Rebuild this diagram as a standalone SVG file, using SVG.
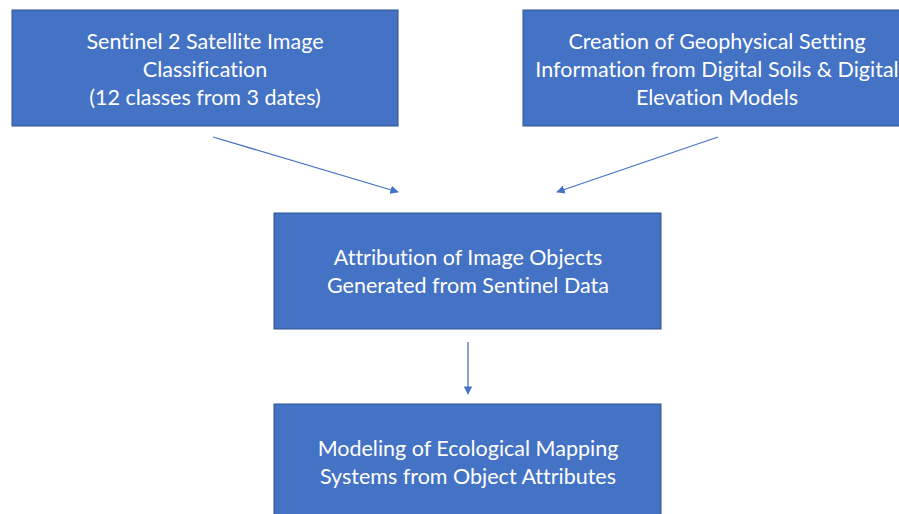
<svg xmlns="http://www.w3.org/2000/svg" width="899" height="514" viewBox="0 0 899 514">
  <style>
    .box { fill: #4472C4; stroke: #2F528F; stroke-width: 1; }
    .label { fill: #FFFFFF; font-family: Lato, "Liberation Sans", sans-serif; font-size: 21.5px; text-anchor: middle; font-variant-ligatures: none; }
    .edge { stroke: #4472C4; stroke-width: 1.3; fill: none; marker-end: url(#arrow); }
  </style>
  <defs>
    <marker id="arrow" viewBox="0 0 10 10" refX="9" refY="5" markerWidth="6.5" markerHeight="6.5" orient="auto" markerUnits="strokeWidth">
      <path d="M0,0 L10,5 L0,10 z" fill="#4472C4"/>
    </marker>
  </defs>

  <rect width="899" height="514" fill="#FFFFFF"/>

  <g id="connectors">
    <line class="edge" x1="213" y1="137" x2="398" y2="192"/>
    <line class="edge" x1="718" y1="137" x2="557" y2="192"/>
    <line class="edge" x1="468" y1="342" x2="468" y2="394"/>
  </g>

  <g id="node-classification">
    <rect class="box" x="12" y="10" width="386" height="116"/>
    <text class="label" x="205" y="49">Sentinel 2 Satellite Image</text>
    <text class="label" x="205" y="77">Classification</text>
    <text class="label" x="205" y="105">(12 classes from 3 dates)</text>
  </g>

  <g id="node-geophysical">
    <rect class="box" x="523" y="10" width="390" height="116"/>
    <text class="label" x="717" y="49">Creation of Geophysical Setting</text>
    <text class="label" x="717" y="77">Information from Digital Soils &amp; Digital</text>
    <text class="label" x="717" y="105">Elevation Models</text>
  </g>

  <g id="node-attribution">
    <rect class="box" x="274" y="213" width="387" height="116"/>
    <text class="label" x="468" y="265">Attribution of Image Objects</text>
    <text class="label" x="468" y="293">Generated from Sentinel Data</text>
  </g>

  <g id="node-modeling">
    <rect class="box" x="274" y="404" width="387" height="116"/>
    <text class="label" x="468" y="456">Modeling of Ecological Mapping</text>
    <text class="label" x="468" y="484">Systems from Object Attributes</text>
  </g>
</svg>
